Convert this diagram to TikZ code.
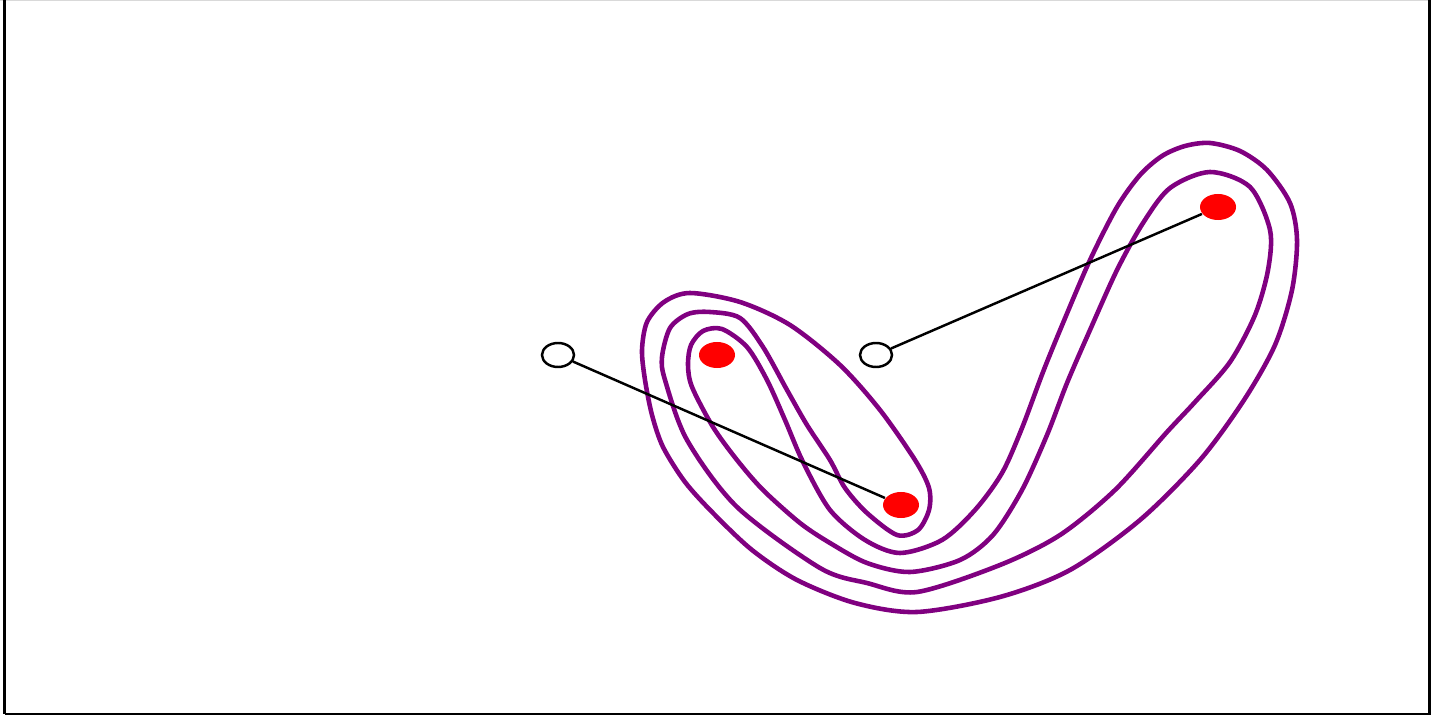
\documentclass[tikz,border=0pt]{standalone}
\usetikzlibrary{shapes.geometric}
\definecolor{boundary}{RGB}{128,0,128}
\tikzset{
  posdot/.style={ellipse,fill=red,inner sep=0pt,minimum width=0.36cm,minimum height=0.26cm},
  negdot/.style={ellipse,draw,fill=white,line width=0.7pt,inner sep=0pt,minimum width=0.32cm,minimum height=0.24cm},
}
\begin{document}
\begin{tikzpicture}[x=0.01cm,y=-0.01cm]
\useasboundingbox (0,0) rectangle (1431,716);
\draw[gray!30,line width=0.4pt] (0,0.5) -- (1431,0.5);
\draw[line width=1pt] (4.5,0) -- (4.5,714);
\draw[line width=0.7pt] (4.5,714) -- (1429.5,714) -- (1429.5,0);
% decision boundary
\draw[boundary,line width=1.3pt,smooth cycle] plot coordinates {
(690,293) (664,302) (647,322) (642,350) (645,380) (652,415) (663,447) (685,482)
(713,513) (752,550) (797,580) (855,603) (917,612) (1000,597) (1070,570) (1140,520)
(1200,460) (1244,400) (1275,345) (1292,290) (1297,240) (1290,203) (1267,170) (1240,151)
(1210,143) (1185,146) (1162,156) (1140,175) (1117,207) (1090,260) (1063,323) (1043,372)
(1022,428) (1002,473) (975,510) (942,540) (900,553) (865,540) (830,510) (803,462)
(785,420) (767,380) (747,347) (722,329) (703,331) (691,345) (688,365) (692,387)
(713,427) (737,460) (763,490) (800,523) (830,543) (867,563) (910,572) (960,560)
(993,535) (1022,490) (1047,435) (1067,383) (1090,330) (1117,270) (1143,223) (1170,188)
(1210,172) (1250,187) (1270,230) (1268,270) (1255,315) (1230,362) (1195,402) (1167,432)
(1115,490) (1060,535) (1000,565) (917,592) (867,583) (820,568) (737,507) (687,440)
(665,380) (662,357) (670,328) (688,314) (710,312) (740,318) (763,347) (787,390)
(807,425) (830,460) (845,488) (867,513) (897,535) (918,530) (929,510) (929,488)
(915,460) (880,410) (840,365) (790,325) (740,302)};
\node[posdot] (p1) at (717,355) {};
\node[posdot] (p2) at (901,505) {};
\node[posdot] (p3) at (1218,207) {};
\node[negdot] (n1) at (558,355) {};
\node[negdot] (n2) at (876,355) {};
\draw[line width=0.7pt] (n1) -- (p2);
\draw[line width=0.7pt] (n2) -- (p3);
\end{tikzpicture}
\end{document}
